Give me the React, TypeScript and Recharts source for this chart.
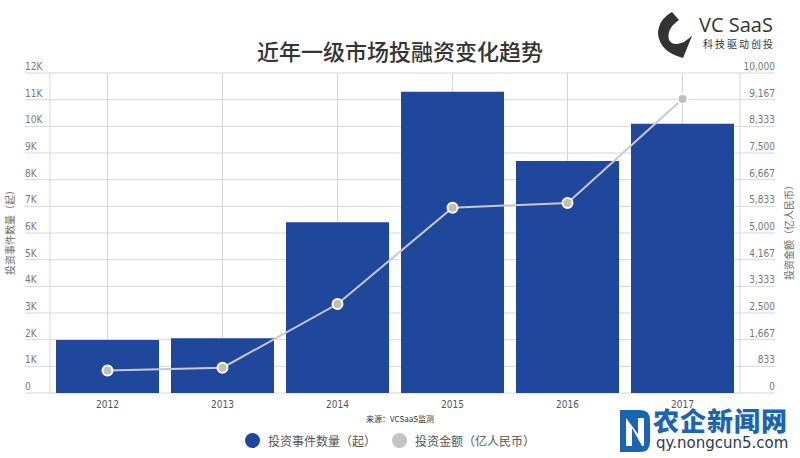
import React from 'react';
import { ComposedChart, Bar, Line, XAxis, YAxis, CartesianGrid } from 'recharts';

const years = ['2012', '2013', '2014', '2015', '2016', '2017'];
const eventCounts = [1990, 2050, 6400, 11300, 8700, 10100];
const investAmounts = [700, 790, 2780, 5790, 5940, 9190];
const leftTickLabels = ['0', '1K', '2K', '3K', '4K', '5K', '6K', '7K', '8K', '9K', '10K', '11K', '12K'];
const rightTickLabels = ['0', '833', '1,667', '2,500', '3,333', '4,167', '5,000', '5,833', '6,667', '7,500', '8,333', '9,167', '10,000'];

const seriesNames = ['投资事件数量（起）', '投资金额（亿人民币）'];
const title = '近年一级市场投融资变化趋势';
const sourceText = '来源：VCSaaS监测';

const data = years.map((y, i) => ({ year: y, count: eventCounts[i], amount: investAmounts[i] }));
const leftTicks = leftTickLabels.map((_, i) => i * 1000);
const rightTicks = rightTickLabels.map((_, i) => (i * 10000) / 12);

const BAR = '#1f489c';
const LINE = '#c9c9c9';
const GRID = '#d6d6d6';
const NARROW = '"Liberation Sans Narrow", "DejaVu Sans Condensed", sans-serif';
const CJK = '"Noto Sans CJK SC", sans-serif';

const LeftTick = (props: any) => {
  const { y, index } = props;
  return (
    <g>
      <line x1={25} x2={50} y1={y} y2={y} stroke={GRID} />
      <text x={25} y={y - 3} fontSize={10} fill="#777" fontFamily={NARROW} textAnchor="start">
        {leftTickLabels[index]}
      </text>
    </g>
  );
};

const RightTick = (props: any) => {
  const { y, index } = props;
  return (
    <g>
      <line x1={740} x2={775} y1={y} y2={y} stroke={GRID} />
      <text x={775} y={y - 3} fontSize={10} fill="#777" fontFamily={NARROW} textAnchor="end">
        {rightTickLabels[index]}
      </text>
    </g>
  );
};

export default function App() {
  return (
    <div style={{ position: 'relative', width: 800, height: 458, background: '#fff', overflow: 'hidden' }}>
      <style>{`body{margin:0;}`}</style>
      <ComposedChart
        width={800}
        height={458}
        data={data}
        margin={{ top: 73, right: 0, bottom: 45, left: 0 }}
      >
        <CartesianGrid yAxisId="left" stroke={GRID} />
        <XAxis
          dataKey="year"
          axisLine={false}
          tickLine={false}
          height={20}
          tick={{ fontSize: 10, fill: '#555', fontFamily: NARROW }}
        />
        <YAxis
          yAxisId="left"
          orientation="left"
          width={50}
          domain={[0, 12000]}
          ticks={leftTicks}
          interval={0}
          axisLine={false}
          tickLine={false}
          tick={<LeftTick />}
        />
        <YAxis
          yAxisId="right"
          orientation="right"
          width={60}
          domain={[0, 10000]}
          ticks={rightTicks}
          interval={0}
          axisLine={false}
          tickLine={false}
          tick={<RightTick />}
        />
        <Bar yAxisId="left" dataKey="count" name={seriesNames[0]} fill={BAR} barSize={103} isAnimationActive={false} />
        <Line
          yAxisId="right"
          dataKey="amount"
          name={seriesNames[1]}
          type="linear"
          stroke={LINE}
          strokeWidth={2}
          dot={{ r: 5, fill: '#c0c0b8', stroke: '#fff', strokeWidth: 2 }}
          isAnimationActive={false}
        />
      </ComposedChart>

      {/* Title */}
      <div style={{ position: 'absolute', left: 0, width: 800, top: 35, textAlign: 'center', fontFamily: CJK, fontSize: 22, fontWeight: 500, color: '#333', lineHeight: '30px' }}>
        {title}
      </div>

      {/* Axis titles */}
      <div style={{ position: 'absolute', left: 9, top: 230, transform: 'translate(-50%, -50%) rotate(-90deg)', whiteSpace: 'nowrap', fontFamily: CJK, fontSize: 10, color: '#666' }}>
        {seriesNames[0]}
      </div>
      <div style={{ position: 'absolute', left: 788, top: 230, transform: 'translate(-50%, -50%) rotate(-90deg)', whiteSpace: 'nowrap', fontFamily: CJK, fontSize: 10, color: '#666' }}>
        {seriesNames[1]}
      </div>

      {/* Source */}
      <div style={{ position: 'absolute', left: 0, width: 800, top: 413, textAlign: 'center', fontFamily: CJK, fontSize: 8, color: '#333' }}>
        {sourceText}
      </div>

      {/* Legend */}
      <div style={{ position: 'absolute', left: 245, top: 432, display: 'flex', alignItems: 'center', fontFamily: CJK, fontSize: 12, color: '#555', whiteSpace: 'nowrap' }}>
        <span style={{ display: 'inline-block', width: 15, height: 15, borderRadius: '50%', background: BAR, marginRight: 8 }} />
        <span>{seriesNames[0]}</span>
        <span style={{ display: 'inline-block', width: 15, height: 15, borderRadius: '50%', background: '#c4c4c4', marginLeft: 16, marginRight: 8 }} />
        <span>{seriesNames[1]}</span>
      </div>

      {/* Logos */}
      <svg style={{ position: 'absolute', left: 0, top: 0 }} width={800} height={458} pointerEvents="none">
        <path d="M672 12 L679 20 Q666 29 669 40 Q673 47 684 42 L692 36 L683 58 Q660 52 658 34 Q658 20 672 12 Z" fill="#333" />
        <path d="M620 410 L640 410 Q650 410 650 420 L650 442 Q650 452 640 452 L620 452 Z" fill="#1a64b0" />
        <path d="M626 418 L626 446 L632 446 L632 428 L642 446 L644 446 L644 418 L638 418 L638 434 Z" fill="#fff" />
      </svg>
      <div style={{ position: 'absolute', left: 699, top: 15, fontFamily: '"Open Sans", "Noto Sans", sans-serif', fontSize: 20, color: '#333', lineHeight: '20px', whiteSpace: 'nowrap' }}>
        VC SaaS
      </div>
      <div style={{ position: 'absolute', left: 703, top: 38, fontFamily: CJK, fontSize: 10, color: '#333', letterSpacing: 2, lineHeight: '12px', whiteSpace: 'nowrap' }}>
        科技驱动创投
      </div>

      {/* Watermark */}
      <div style={{ position: 'absolute', left: 653, top: 406, fontFamily: CJK, fontSize: 26, fontWeight: 900, color: '#1a64b0', lineHeight: '27px', whiteSpace: 'nowrap', letterSpacing: 1 }}>
        农企新闻网
      </div>
      <div style={{ position: 'absolute', left: 656, top: 435, fontFamily: '"DejaVu Sans", sans-serif', fontSize: 15, color: '#2a3a55', lineHeight: '17px', whiteSpace: 'nowrap' }}>
        qy.nongcun5.com
      </div>
    </div>
  );
}
